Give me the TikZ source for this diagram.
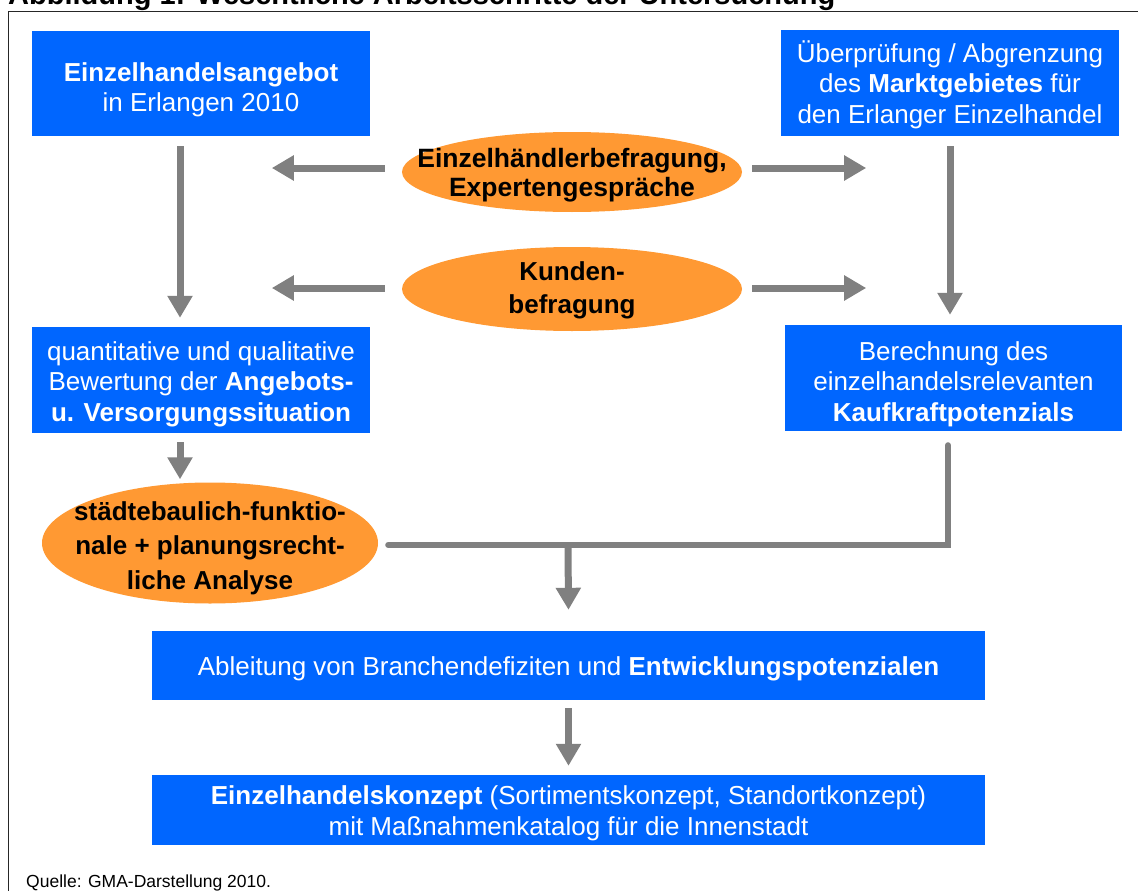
\documentclass[tikz,border=0pt]{standalone}
\usepackage{fontspec}
\setmainfont{Liberation Sans}
\usetikzlibrary{arrows.meta,shapes.geometric}
\definecolor{gmablue}{RGB}{0,102,255}
\definecolor{gmaorange}{RGB}{255,153,51}
\definecolor{gmagray}{RGB}{128,128,128}
\begin{document}
\begin{tikzpicture}[x=1pt,y=-1pt,
 bluebox/.style={fill=gmablue, inner sep=0pt},
 boxtext/.style={text=white, inner sep=0pt, align=center, font=\fontsize{26}{30.5}\selectfont},
 orangeell/.style={ellipse, fill=gmaorange, inner sep=0pt},
 elltext/.style={align=center, inner sep=0pt, text=black},
 arr/.style={draw=gmagray, line width=7pt, -{Triangle[width=24pt,length=22pt]}},
 conn/.style={draw=gmagray, line width=6pt, line cap=round},
]
\useasboundingbox (0,0) rectangle (1138,891);
\clip (0,0) rectangle (1138,891);
% title (clipped as in the reference) and frame
\node[anchor=base west, inner sep=0pt, font=\fontsize{29}{34}\selectfont\bfseries] (title) at (8,4.5) {Abbildung 1: Wesentliche Arbeitsschritte der Untersuchung};
\draw[line width=1.5pt, black!85] (8.5,900) -- (8.5,11.5) -- (1145,11.5);
% blue boxes
\node[bluebox, minimum width=338pt, minimum height=105pt,
  label={[boxtext, yshift=-6.5pt]center:{\textbf{Einzelhandelsangebot}\\in Erlangen 2010}}] (A) at (201,83.5) {};
\node[bluebox, minimum width=338pt, minimum height=106pt,
  label={[boxtext, yshift=-1.5pt]center:{Überprüfung / Abgrenzung\\des \textbf{Marktgebietes} für\\den Erlanger Einzelhandel}}] (B) at (950,83) {};
\node[bluebox, minimum width=338pt, minimum height=106pt,
  label={[boxtext, yshift=-4pt]center:{quantitative und qualitative\\Bewertung der \textbf{Angebots-}\\\textbf{u. Versorgungssituation}}}] (C) at (201,380) {};
\node[bluebox, minimum width=337pt, minimum height=106pt,
  label={[boxtext, yshift=-6pt]center:{Berechnung des\\einzelhandelsrelevanten\\\textbf{Kaufkraftpotenzials}}}] (D) at (953.5,378) {};
\node[bluebox, minimum width=833pt, minimum height=69pt,
  label={[boxtext, yshift=-3pt]center:{Ableitung von Branchendefiziten und \textbf{Entwicklungspotenzialen}}}] (E) at (568.5,665.5) {};
\node[bluebox, minimum width=833pt, minimum height=70pt,
  label={[boxtext, yshift=-3.5pt]center:{\textbf{Einzelhandelskonzept} (Sortimentskonzept, Standortkonzept)\\mit Maßnahmenkatalog für die Innenstadt}}] (F) at (568.5,810) {};
% orange ellipses
\node[orangeell, minimum width=340pt, minimum height=80pt,
  label={[elltext, yshift=-3pt, font=\fontsize{26.5}{29.5}\selectfont\bfseries]center:{Einzelhändlerbefragung,\\Expertengespräche}}] (E1) at (572,172) {};
\node[orangeell, minimum width=340pt, minimum height=84pt,
  label={[elltext, yshift=-1pt, font=\fontsize{26}{33}\selectfont\bfseries]center:{Kunden-\\befragung}}] (E2) at (572,289) {};
\node[orangeell, minimum width=336pt, minimum height=121pt,
  label={[elltext, yshift=-5pt, font=\fontsize{26}{34.5}\selectfont\bfseries]center:{städtebaulich-funktio-\\nale + planungsrecht-\\liche Analyse}}] (E3) at (210,543) {};
% source
\node[anchor=base west, inner sep=0pt, font=\fontsize{17.5}{20}\selectfont] (src) at (26,887) {Quelle: GMA-Darstellung 2010.};
% vertical arrows
\draw[arr] ([xshift=-21pt,yshift=-10pt]A.south) -- ([xshift=-21pt,yshift=9pt]C.north);
\draw[arr] ([yshift=-10pt]B.south) -- ([yshift=10pt]D.north -| B.south);
\draw[arr] ([xshift=-21pt,yshift=-9pt]C.south) -- ([xshift=-30pt,yshift=3pt]E3.north);
% horizontal arrows from ellipses
\draw[arr] ([xshift=-17pt,yshift=4pt]E1.west) -- ([xshift=-130pt,yshift=4pt]E1.west);
\draw[arr] ([xshift=10pt,yshift=4pt]E1.east) -- ([xshift=124pt,yshift=4pt]E1.east);
\draw[arr] ([xshift=-17pt,yshift=1pt]E2.west) -- ([xshift=-130pt,yshift=1pt]E2.west);
\draw[arr] ([xshift=10pt,yshift=1pt]E2.east) -- ([xshift=124pt,yshift=1pt]E2.east);
% merge
\coordinate (j) at (948,545);
\coordinate (mid) at (568,545);
\draw[conn] ([xshift=10pt]E3.east |- j) -- (j) -- ([xshift=-5.5pt,yshift=-14pt]D.south);
\draw[arr] (mid) -- ([yshift=21pt]E.north);
\draw[arr] ([yshift=-8pt]E.south) -- ([yshift=9pt]F.north);
\end{tikzpicture}
\end{document}
